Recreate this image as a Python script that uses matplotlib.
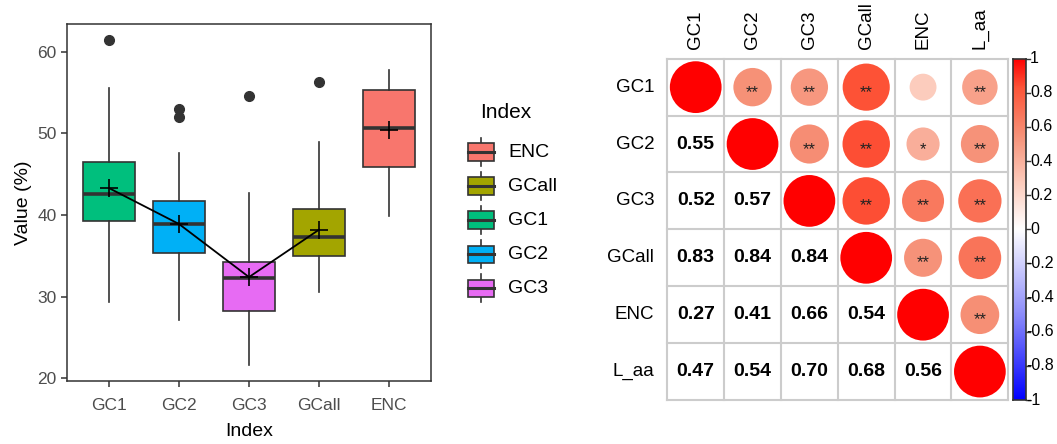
import numpy as np
import matplotlib
matplotlib.use("Agg")
import matplotlib.pyplot as plt
from matplotlib.patches import Rectangle, Circle
from matplotlib.colors import LinearSegmentedColormap

plt.rcParams['font.family'] = ['Liberation Sans', 'DejaVu Sans']

# ---------------- box plot data (values in %) ----------------
categories = ["GC1", "GC2", "GC3", "GCall", "ENC"]
box_colors = ["#00BF7D", "#00B0F6", "#E76BF3", "#A3A500", "#F8766D"]
whisker_low = [29.4, 27.2, 21.6, 30.6, 39.9]
q1 = [39.3, 35.4, 28.2, 35.0, 45.9]
median = [42.6, 38.9, 32.3, 37.3, 50.6]
q3 = [46.5, 41.7, 34.2, 40.7, 55.3]
whisker_high = [55.5, 47.6, 42.7, 49.0, 57.8]
outliers = [[61.4], [53.0, 52.0], [54.6], [56.3], []]
means = [43.3, 38.9, 32.4, 38.2, 50.4]
mean_line_groups = ["GC1", "GC2", "GC3", "GCall"]

legend_order = ["ENC", "GCall", "GC1", "GC2", "GC3"]

# ---------------- correlation data ----------------
corr_labels = ["GC1", "GC2", "GC3", "GCall", "ENC", "L_aa"]
corr = np.array([
    [1.00, 0.55, 0.52, 0.83, 0.27, 0.47],
    [0.55, 1.00, 0.57, 0.84, 0.41, 0.54],
    [0.52, 0.57, 1.00, 0.84, 0.66, 0.70],
    [0.83, 0.84, 0.84, 1.00, 0.54, 0.68],
    [0.27, 0.41, 0.66, 0.54, 1.00, 0.56],
    [0.47, 0.54, 0.70, 0.68, 0.56, 1.00],
])
signif = [
    ["", "**", "**", "**", "", "**"],
    ["", "", "**", "**", "*", "**"],
    ["", "", "", "**", "**", "**"],
    ["", "", "", "", "**", "**"],
    ["", "", "", "", "", "**"],
    ["", "", "", "", "", ""],
]
cbar_ticks = [1, 0.8, 0.6, 0.4, 0.2, 0, -0.2, -0.4, -0.6, -0.8, -1]

W, H = 1057, 444
fig = plt.figure(figsize=(W / 100, H / 100), dpi=100)


def px_axes(x0, y0, x1, y1):
    return fig.add_axes([x0 / W, 1 - y1 / H, (x1 - x0) / W, (y1 - y0) / H])


# ================= left: box plot =================
ax = px_axes(67, 24, 431, 381)
positions = np.arange(1, len(categories) + 1)
stats = []
for i, name in enumerate(categories):
    stats.append(dict(label=name, med=median[i], q1=q1[i], q3=q3[i],
                      whislo=whisker_low[i], whishi=whisker_high[i],
                      fliers=outliers[i], mean=means[i]))
edge = "#333333"
bp = ax.bxp(stats, positions=positions, widths=0.75, patch_artist=True,
            showcaps=False, showmeans=False,
            boxprops=dict(edgecolor=edge, linewidth=1.2),
            whiskerprops=dict(color=edge, linewidth=1.2),
            medianprops=dict(color=edge, linewidth=2.6, solid_capstyle="butt"),
            flierprops=dict(marker="o", markerfacecolor=edge, markeredgecolor=edge,
                            markersize=7))
for patch, c in zip(bp["boxes"], box_colors):
    patch.set_facecolor(c)

line_idx = [categories.index(g) for g in mean_line_groups]
ax.plot(positions[line_idx], [means[i] for i in line_idx], color="black", lw=1.3, zorder=4)
ax.plot(positions, means, linestyle="none", marker="+", color="black",
        markersize=13, mew=1.2, zorder=5)

ax.set_xlim(0.4, 5.6)
ax.set_ylim(19.67, 63.4)
ax.set_yticks([20, 30, 40, 50, 60])
ax.set_xticks(positions)
ax.set_xticklabels(categories)
for s in ax.spines.values():
    s.set_color(edge)
    s.set_linewidth(1.1)
ax.tick_params(colors=edge, labelcolor="#4D4D4D", labelsize=12.5, length=4, width=1.1)
ax.tick_params(axis="x", pad=8.5, length=4)
ax.tick_params(axis="y", pad=3.5)
ax.set_xlabel("Index", fontsize=14, labelpad=7)
ax.set_ylabel("Value (%)", fontsize=14, labelpad=4)

# ================= overlay for the legend (pixel coordinates) =================
ov = fig.add_axes([0, 0, 1, 1])
ov.set_xlim(0, W)
ov.set_ylim(H, 0)
ov.axis("off")
ov.patch.set_visible(False)
ov.text(480, 112, "Index", fontsize=15, ha="left", va="center")
for k, name in enumerate(legend_order):
    cy = 152 + k * 34.1
    c = box_colors[categories.index(name)]
    ov.plot([480.8, 480.8], [cy - 14, cy + 14], color=edge, lw=1.2)
    ov.add_patch(Rectangle((467.5, cy - 8.8), 26.7, 17.6, facecolor=c,
                           edgecolor=edge, lw=1.2, zorder=3))
    ov.plot([467.5, 494.2], [cy, cy], color=edge, lw=2.2, zorder=4)
    ov.text(508, cy, name, fontsize=14, ha="left", va="center")

# ================= right: correlation plot =================
cmap = LinearSegmentedColormap.from_list("corr", [
    (0.0, (0.0, 0.0, 1.0)),
    (0.25, (0.55, 0.55, 0.98)),
    (0.5, (1.0, 1.0, 1.0)),
    (0.635, (0.99, 0.80, 0.74)),
    (0.775, (0.965, 0.57, 0.47)),
    (0.915, (0.99, 0.33, 0.22)),
    (1.0, (1.0, 0.0, 0.0)),
])

axc = px_axes(667.3, 58.7, 1008.3, 400)
n = len(corr_labels)
axc.set_xlim(0, n)
axc.set_ylim(n, 0)
axc.axis("off")
for k in range(n + 1):
    axc.plot([k, k], [0, n], color="#CCCCCC", lw=1.5, zorder=1, clip_on=False)
    axc.plot([0, n], [k, k], color="#CCCCCC", lw=1.5, zorder=1, clip_on=False)
for i in range(n):
    for j in range(n):
        r = corr[i, j]
        cx, cy = j + 0.5, i + 0.5
        if j >= i:
            rad = 0.455 * np.sqrt(abs(r))
            axc.add_patch(Circle((cx, cy), rad, facecolor=cmap((r + 1) / 2),
                                 edgecolor="none", zorder=2))
            if signif[i][j]:
                axc.text(cx, cy + 0.17, signif[i][j], ha="center", va="baseline",
                         fontsize=12, color="#222222", zorder=3)
        else:
            axc.text(cx, cy, f"{r:.2f}", ha="center", va="center",
                     fontsize=14, fontweight="bold", zorder=3)
for k, lab in enumerate(corr_labels):
    axc.text(-0.23, k + 0.5, lab, ha="right", va="center", fontsize=13.5, clip_on=False)
    axc.text(k + 0.5, -0.17, lab, ha="center", va="bottom", rotation=90,
             fontsize=13.5, clip_on=False)

# colour bar
axb = px_axes(1013, 58.7, 1026, 400)
grad = np.linspace(1, -1, 256).reshape(-1, 1)
axb.imshow(grad, cmap=cmap, vmin=-1, vmax=1, aspect="auto", extent=(0, 1, -1, 1))
axb.set_xlim(0, 1)
axb.set_ylim(-1, 1)
axb.set_xticks([])
axb.set_yticks([])
for s in axb.spines.values():
    s.set_color("#333333")
    s.set_linewidth(1.2)
for t in cbar_ticks:
    axb.plot([1, 1.3], [t, t], color="#333333", lw=1, clip_on=False)
    lab = f"{t:g}"
    x0 = 1.0 if t < 0 else 1.3
    axb.text(x0, t, lab, ha="left", va="center", fontsize=11.5, clip_on=False)

fig.savefig("out.png", dpi=100)
